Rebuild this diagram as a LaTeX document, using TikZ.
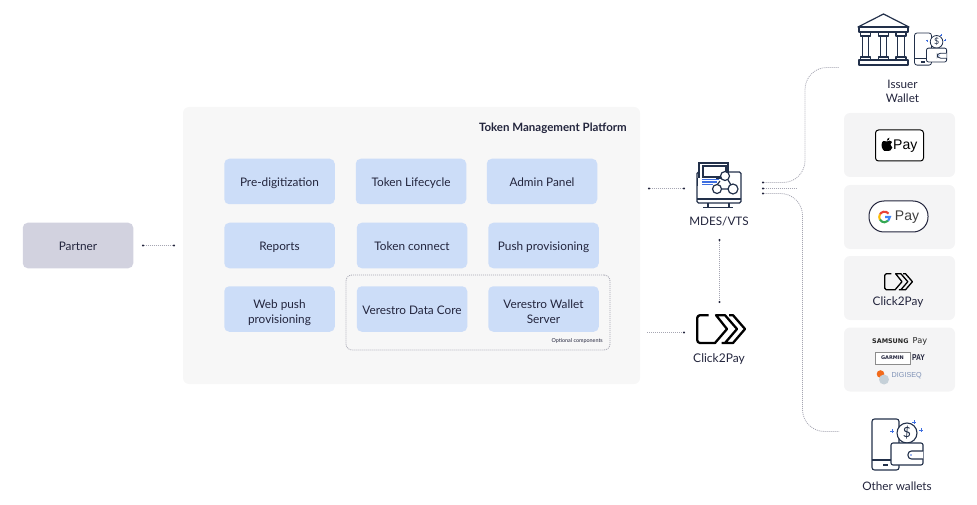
\documentclass[tikz,border=0pt]{standalone}
\usepackage{fontspec}
\setmainfont{Lato}
\newfontfamily\paysans{Liberation Sans}
\newfontfamily\widesans{DejaVu Sans}
\usetikzlibrary{arrows.meta,calc}
\definecolor{ink}{HTML}{23253D}
\definecolor{iconink}{HTML}{22304A}
\definecolor{platformbg}{HTML}{F7F7F7}
\definecolor{panelbg}{HTML}{F4F4F5}
\definecolor{tilebg}{HTML}{CCDDF8}
\definecolor{partnerbg}{HTML}{D2D2DF}
\definecolor{wire}{HTML}{A6A6B2}
\definecolor{spark}{HTML}{3F6FE0}
\definecolor{gred}{HTML}{EA4335}
\definecolor{gyellow}{HTML}{FBBC04}
\definecolor{ggreen}{HTML}{34A853}
\definecolor{gblue}{HTML}{4285F4}
\definecolor{digiblue}{HTML}{7D90B5}
\definecolor{digigrey}{HTML}{C5D0D8}
\definecolor{digiorange}{HTML}{F26A1B}
\newcommand\oneline[1]{\smash{\raisebox{-5.3pt}{#1}}}
\newcommand\twolines[2]{\smash{\raisebox{.8pt}{\begin{tabular}[t]{@{}c@{}}#1\\#2\end{tabular}}}}
\tikzset{
  tile/.style={fill=tilebg,rounded corners=5pt,minimum width=110.5pt,minimum height=45.5pt,inner sep=0pt,text=ink,font=\fontsize{11.8}{15}\selectfont},
  panel/.style={fill=panelbg,rounded corners=6pt,minimum width=111pt,minimum height=64pt,inner sep=0pt},
  lbl/.style={text=ink,inner sep=0pt,anchor=base,font=\fontsize{11.7}{14}\selectfont},
  wirepath/.style={draw=wire,line width=.8pt,dash pattern=on 1pt off 1pt},
  dotboth/.style={wirepath,{Circle[length=2pt,color=ink]}-{Circle[length=2pt,color=ink]}},
  dotend/.style={wirepath,-{Circle[length=2pt,color=ink]}},
  dotstart/.style={wirepath,{Circle[length=2pt,color=ink]}-},
  walleticon/.pic={
    \draw[iconink,fill=white,rounded corners=2.5pt] (0,0) rectangle (27,51);
    \draw[iconink] (0,41)--(27,41);
    \draw[iconink,line width=1.2pt] (11,46)--(16,46);
    \draw[iconink,fill=white] (35,14) circle (10);
    \draw[iconink,fill=white,rounded corners=2pt] (19,24) -- (19,46) -- (51,46) -- (51,24) -- cycle;
    \draw[iconink,fill=white,rounded corners=3.5pt] (51,32) -- (36,32) -- (36,40) -- (51,40);
    \fill[spark] (39,36) circle (.8);
    \node[text=iconink,inner sep=0pt,transform shape,font=\fontsize{14}{14}\selectfont] at (35,14) {\$};
    \foreach \sx/\sy in {42/3,49/11,20/12}{
      \draw[spark,line width=.45pt] (\sx-1.6,\sy)--(\sx+1.6,\sy) (\sx,\sy-1.6)--(\sx,\sy+1.6);
    }
  },
  clicklogo/.pic={
    \draw[black,line join=round,line cap=butt] (12.5,1.2) -- (4,1.2) to[out=180,in=90] (1.2,4) -- (1.2,26) to[out=-90,in=180] (4,29) -- (19,29) -- (31,15) -- (20,1.2) -- (29,1.2) -- (41,15) -- (29,29) (25.5,29) -- (37,29) -- (49,15) -- (37,1.2) -- (33,1.2);
  }
}
\begin{document}
\begin{tikzpicture}[x=1pt,y=-1pt]
\useasboundingbox (0,0) rectangle (977,505);

% platform
\node[fill=platformbg,rounded corners=6pt,minimum width=457pt,minimum height=277pt,inner sep=0pt] (platform) at (411.5,245.5) {};
\node[text=ink,inner sep=0pt,anchor=base east,font=\fontsize{11.5}{13}\selectfont\bfseries] (platformtitle) at (627,131.5) {Token Management Platform};

% tiles
\node[tile] (predig) at (279.5,181.5) {\oneline{Pre-digitization}};
\node[tile] (lifecycle) at (411,181.5) {\oneline{Token Lifecycle}};
\node[tile] (admin) at (542,181.5) {\oneline{Admin Panel}};
\node[tile] (reports) at (279.5,245.5) {\oneline{Reports}};
\node[tile] (connect) at (412,245.5) {\oneline{Token connect}};
\node[tile] (push) at (543.5,245.5) {\oneline{Push provisioning}};
\node[tile] (webpush) at (279.5,309) {\twolines{Web push}{provisioning}};
\node[tile] (datacore) at (412,309) {\oneline{Verestro Data Core}};
\node[tile] (walletserver) at (543.5,309) {\twolines{Verestro Wallet}{Server}};

% optional frame
\node[draw=wire,line width=.8pt,dash pattern=on 1pt off 1pt,rounded corners=6pt,minimum width=264pt,minimum height=75pt,inner sep=0pt] (optional) at (478,312.5) {};
\node[text=ink,inner sep=0pt,anchor=base east,font=\fontsize{5.4}{7}\selectfont] (optionallabel) at (603,342) {Optional components};

% partner
\node[tile,fill=partnerbg] (partner) at (78,245.5) {\oneline{Partner}};

% MDES icon
\begin{scope}[iconink,line width=1.2pt]
  \draw[rounded corners=1.5pt] (697,172) rectangle (741,203);
  \draw (697,199)--(741,199);
  \draw (708,203)--(708,207) (729,203)--(729,207) (703,207.5)--(733,207.5);
  \draw[fill=white] (699,163) rectangle (728,178.5);
  \draw[fill=white] (703,166) rectangle (726,177);
  \fill[white] (698,178) rectangle (716,186);
  \draw (697.5,178) -- (697.5,186);
  \draw[spark] (702,179.5)--(719,179.5) (702,182)--(717,182) (702,184.5)--(713,184.5);
  \draw (720,181)--(717,185) (728,180)--(731,185) (721,189)--(728,189);
  \draw[fill=white] (725,176) circle (4.5);
  \draw[fill=white] (717,189) circle (4.5);
  \draw[fill=white] (733,189) circle (5);
\end{scope}
\node[lbl] (mdes) at (719,225.5) {MDES/VTS};

% Click2Pay centre
\pic[line width=2.3pt] at (696,314) {clicklogo};
\node[lbl,font=\fontsize{12}{15}\selectfont] (clickpay) at (719,362) {Click2Pay};

% right panels
\node[panel] (applepanel) at (899.5,145) {};
\node[panel] (googlepanel) at (899.5,217) {};
\node[panel] (clickpanel) at (899.5,288) {};
\node[panel] (otherpanel) at (899.5,359.5) {};

% Apple Pay
\node[draw=black,line width=1pt,fill=white,rounded corners=3pt,minimum width=48pt,minimum height=31pt,inner sep=0pt] (applebadge) at (899.5,145.5) {};
\fill[black] (887,141.5) .. controls (885,140) and (881.5,140.5) .. (881.5,145) .. controls (881.5,148.5) and (884,151.5) .. (885.5,151) .. controls (886.5,150.5) and (887.5,150.5) .. (888.5,151) .. controls (890,151.5) and (891.5,149.5) .. (892.3,147.5) .. controls (890,146.5) and (889.8,143) .. (892,141.8) .. controls (890.5,140) and (888.5,140.5) .. (887,141.5) -- cycle;
\fill[black] (886.8,140.8) .. controls (886.8,139) and (888,138) .. (889.5,137.7) .. controls (889.6,139.3) and (888.4,140.7) .. (886.8,140.8) -- cycle;
\node[inner sep=0pt,text=black,font=\paysans\fontsize{14}{15}\selectfont] (applepay) at (905.3,146) {Pay};

% Google Pay
\node[draw=ink,line width=1pt,fill=white,rounded corners=15pt,minimum width=59pt,minimum height=31pt,inner sep=0pt] (googlebadge) at (898.5,216.5) {};
\begin{scope}[shift={(884.5,217)},y=1pt,line width=2.1pt]
  \draw[gred] (40:5.3) arc (40:150:5.3);
  \draw[gyellow] (150:5.3) arc (150:210:5.3);
  \draw[ggreen] (210:5.3) arc (210:315:5.3);
  \draw[gblue] (315:5.3) arc (315:360:5.3) -- (0.5,0);
\end{scope}
\node[inner sep=0pt,text=black!75,font=\paysans\fontsize{14}{15}\selectfont] (googlepay) at (907,217) {Pay};

% Click2Pay panel
\pic[scale=.58,line width=1.3pt] at (884,273) {clicklogo};
\node[lbl,font=\fontsize{11.8}{14}\selectfont] (clickpaysmall) at (898,305) {Click2Pay};

% Samsung / Garmin / Digiseq
\node[inner sep=0pt,text=black!85,anchor=west,font=\widesans\bfseries\fontsize{6.4}{7}\selectfont] (samsung) at (872,341) {SAMSUNG};
\node[inner sep=0pt,text=black!85,anchor=west,font=\widesans\fontsize{8.2}{9}\selectfont] (samsungpay) at (912.5,341.5) {Pay};
\node[draw=black!45,line width=1pt,fill=white,minimum width=35pt,minimum height=12pt,inner sep=0pt,font=\widesans\bfseries\fontsize{5}{6}\selectfont,text=ink] (garmin) at (892.5,358) {GARMIN};
\node[inner sep=0pt,text=ink,anchor=west,xscale=.8,font=\paysans\bfseries\fontsize{8.5}{9}\selectfont] (garminpay) at (912,358) {PAY};
\fill[digiorange] (880.5,374) circle (3.8);
\fill[digigrey] (884,379.5) circle (5);
\node[inner sep=0pt,text=digiblue,anchor=west,font=\paysans\fontsize{7.2}{9}\selectfont] (digiseq) at (891.5,376) {DIGISEQ};

% bank icon
\begin{scope}[iconink,line width=1.2pt,line join=round]
  \draw (858,27)--(883.5,14)--(909,27)--cycle;
  \draw (859,27) rectangle (908,32);
  \foreach \cx in {865.5,883.5,901}{
    \draw (\cx-5,32) rectangle (\cx+5,36);
    \draw (\cx-3.3,36) rectangle (\cx+3.3,57);
    \draw (\cx-5,57) rectangle (\cx+5,60);
  }
  \draw (859,60) rectangle (908,65);
\end{scope}
\pic[scale=.63,iconink,line width=.8pt,transform shape] at (914.5,33) {walleticon};
\node[text=ink,inner sep=0pt,font=\fontsize{11.7}{14}\selectfont] (issuer) at (902.5,88.7) {\smash{\begin{tabular}[t]{@{}c@{}}Issuer\\Wallet\end{tabular}}};

% other wallets icon
\pic[iconink,line width=1.1pt] at (872,419) {walleticon};
\node[lbl] (otherwallets) at (897,490.7) {Other wallets};

% connector ends
\coordinate (partnerout) at (142,245.5);
\coordinate (platformin) at (175,245.5);
\coordinate (platformout) at (648,188.5);
\coordinate (mdesin) at (685,188.5);
\coordinate (platformout2) at (647,332.5);
\coordinate (clickin) at (685,332.5);
\coordinate (mdesdown) at (719.5,239);
\coordinate (clickup) at (719.5,303);
\coordinate (tapa) at (762,182.5);
\coordinate (tapb) at (762,188.5);
\coordinate (tapc) at (762,193.5);
\coordinate (tapbend) at (796,188.5);
\coordinate (issuerend) at (839,67.5);
\coordinate (otherend) at (839,431.5);

% connectors
\draw[dotboth] (partnerout) -- (platformin);
\draw[dotboth] (platformout) -- (mdesin);
\draw[dotend] (platformout2) -- (clickin);
\draw[dotboth] (mdesdown) -- (clickup);
\draw[dotstart,rounded corners=22pt] (tapa) -- (805,182.5) -- (805,67.5) -- (issuerend);
\draw[dotstart] (tapb) -- (tapbend);
\draw[dotstart,rounded corners=22pt] (tapc) -- (802.5,193.5) -- (802.5,431.5) -- (otherend);
\end{tikzpicture}
\end{document}
